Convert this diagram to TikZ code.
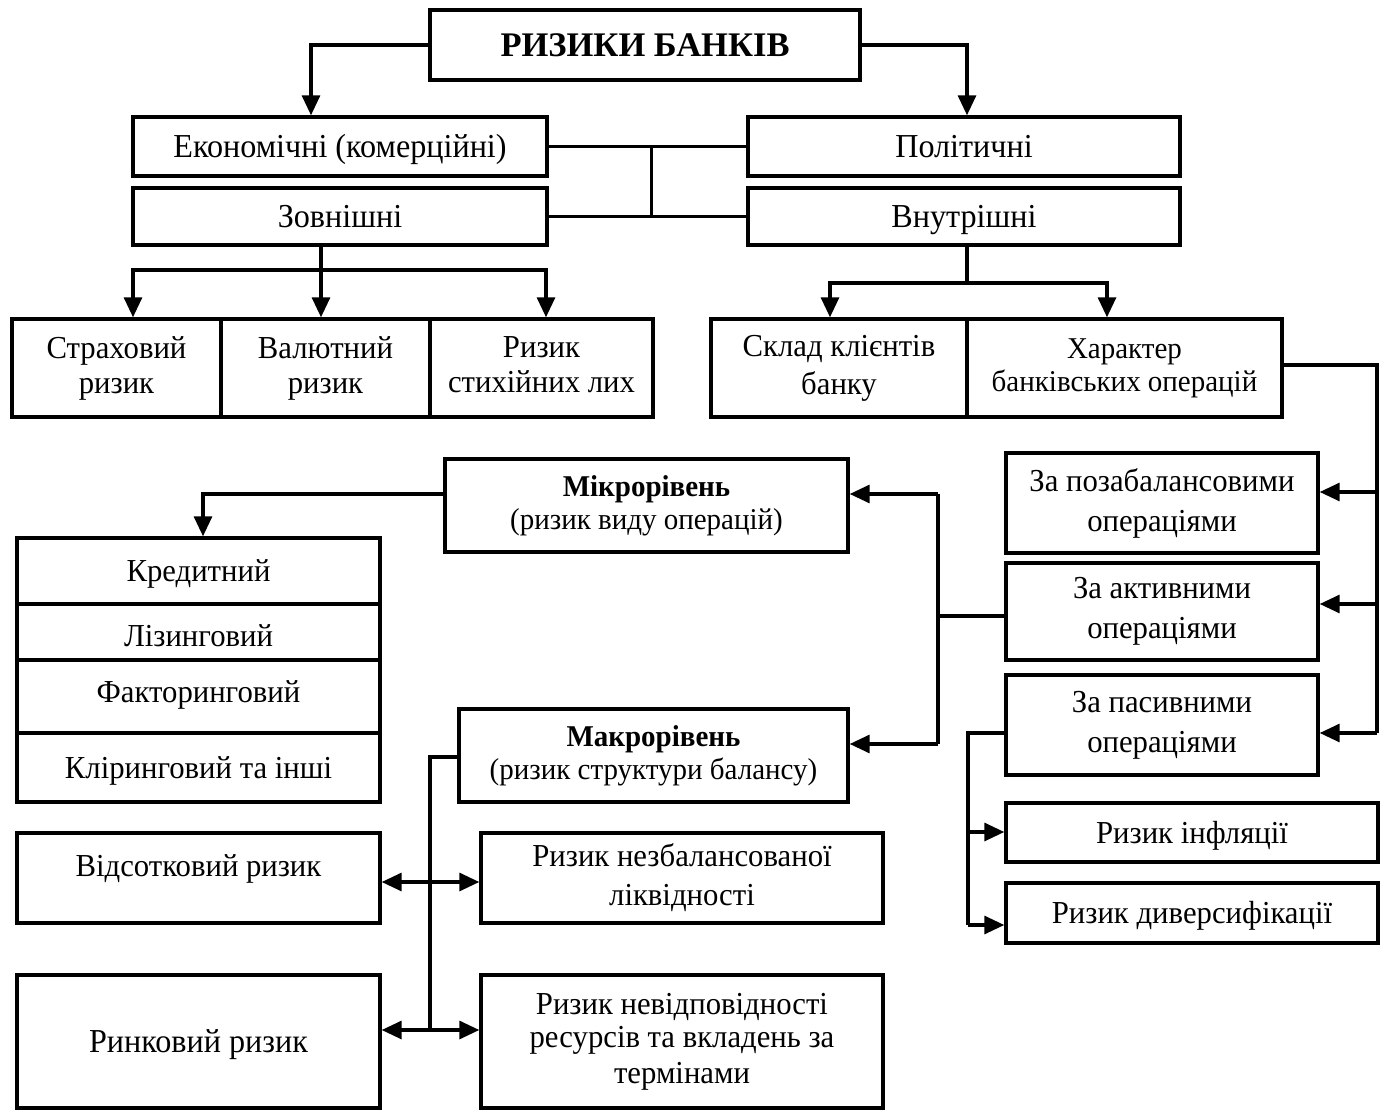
\documentclass[tikz,border=0pt]{standalone}
\usepackage{fontspec}
\setmainfont{Liberation Serif}[FakeStretch=0.96]
\newfontfamily\titlefont{Liberation Serif}
\usetikzlibrary{arrows.meta,calc}
\newcommand\vst{\vrule width 0pt height 0.87em depth 0.21em\relax}
\tikzset{
  bx/.style={draw, line width=3.4pt, inner sep=0pt, align=center, font=\fontsize{32}{35}\selectfont,
    execute at begin node=\vst, execute at end node=\vst},
  big/.style={font=\fontsize{33.5}{36}\selectfont},
  small/.style={font=\fontsize{30.2}{33}\selectfont},
  ln/.style={line width=3.2pt},
  arr/.style={line width=3.2pt, -{Triangle[length=20pt,width=18pt]}},
  darr/.style={line width=3.2pt, {Triangle[length=20pt,width=18pt]}-{Triangle[length=20pt,width=18pt]}},
}
\newcommand\mybox[7][]{\node[bx, minimum width={(#5)-(#3)}, minimum height={(#6)-(#4)}, #1] (#2) at ({((#3)+(#5))/2},{((#4)+(#6))/2}) {#7};}
\begin{document}
\begin{tikzpicture}[x=1pt,y=-1pt]
\useasboundingbox[fill=white] (0,0) rectangle (1387,1110);
% boxes
\mybox[font=\fontsize{34.5}{38}\titlefont\bfseries]{title}{430}{10}{860}{80}{РИЗИКИ БАНКІВ}
\mybox[big]{econ}{133}{117}{547}{176}{Економічні (комерційні)}
\mybox[big]{polit}{748}{117}{1180}{176}{Політичні}
\mybox[big]{zov}{133}{188}{547}{245}{Зовнішні}
\mybox[big]{vnut}{748}{188}{1180}{245}{Внутрішні}
\mybox{strah}{12}{319}{221}{417}{Страховий\\ризик}
\mybox{val}{221}{319}{430}{417}{Валютний\\ризик}
\mybox{styx}{430}{319}{653}{417}{Ризик\\стихійних лих}
\mybox[font=\fontsize{32}{38}\selectfont]{sklad}{711}{319}{967}{417}{Склад клієнтів\\банку}
\mybox[small]{har}{967}{319}{1282}{417}{Характер\\банківських операцій}
\mybox[font=\fontsize{32}{40}\selectfont]{pozab}{1006}{453}{1318}{553}{За позабалансовими\\операціями}
\mybox[font=\fontsize{32}{40}\selectfont]{akt}{1006}{563}{1318}{660}{За активними\\операціями}
\mybox[font=\fontsize{32}{40}\selectfont]{pas}{1006}{675}{1318}{775}{За пасивними\\операціями}
\mybox{infl}{1006}{803}{1378}{862}{Ризик інфляції}
\mybox{divers}{1006}{883}{1378}{943}{Ризик диверсифікації}
\mybox[small]{mikro}{445}{459}{848}{552}{\textbf{Мікрорівень}\\(ризик виду операцій)}
\mybox[small]{makro}{459}{709}{848}{802}{\textbf{Макрорівень}\\(ризик структури балансу)}
\mybox{kred}{17}{538}{380}{604}{Кредитний}
\mybox{liz}{17}{604}{380}{660}{\raisebox{-4pt}{Лізинговий}}
\mybox{fakt}{17}{660}{380}{733}{\raisebox{5pt}{Факторинговий}}
\mybox{klir}{17}{733}{380}{802}{Кліринговий та інші}
\mybox{vids}{17}{833}{380}{923}{}
\node[font=\fontsize{32}{35}\selectfont, inner sep=0pt] at ([yshift=12]vids.center) {\vst Відсотковий ризик\vst};
\mybox[font=\fontsize{32}{39}\selectfont]{nezb}{481}{833}{883}{923}{Ризик незбалансованої\\ліквідності}
\mybox[big]{rynk}{17}{975}{380}{1108}{Ринковий ризик}
\mybox[font=\fontsize{32}{36}\selectfont]{nevid}{481}{975}{883}{1108}{\raisebox{-3pt}{Ризик невідповідності}\\ресурсів та вкладень за\\термінами}
% connectors top
\draw[arr] (title.west) -| ([xshift=-29]econ.north);
\draw[arr] (title.east) -| ([xshift=3]polit.north);
\draw[ln] (econ.east) -- (polit.west);
\draw[ln] (zov.east) -- (vnut.west);
\draw[ln] ($(econ.east)!0.52!(polit.west)$) -- ($(zov.east)!0.52!(vnut.west)$);
% external
\coordinate (zb) at (321,270);
\draw[ln] (zov.south -| zb) -- (zb);
\draw[arr] (zb) -| ([xshift=16.5]strah.north);
\draw[arr] (zb) -| ([xshift=4.5]styx.north);
\draw[arr] (zb) -- (val.north -| zb);
% internal
\coordinate (vb) at (967,283);
\draw[ln] (vnut.south -| vb) -- (vb);
\draw[arr] (vb) -| ([xshift=-9]sklad.north);
\draw[arr] (vb) -| ([xshift=-17.5]har.north);
% right bus
\coordinate (rb0) at (1377,365);
\coordinate (rb1) at (1377,492);
\coordinate (rb2) at (1377,604);
\coordinate (rb3) at (1377,733);
\draw[ln] (har.east |- rb0) -- (rb0) -- (rb3);
\draw[arr] (rb1) -- (pozab.east |- rb1);
\draw[arr] (rb2) -- (akt.east |- rb2);
\draw[arr] (rb3) -- (pas.east |- rb3);
% middle bus
\coordinate (mb0) at (938,616);
\coordinate (mb1) at (938,494);
\coordinate (mb2) at (938,744);
\draw[ln] (akt.west |- mb0) -- (mb0);
\draw[ln] (mb1) -- (mb2);
\draw[arr] (mb1) -- (mikro.east |- mb1);
\draw[arr] (mb2) -- (makro.east |- mb2);
% micro to stack
\coordinate (kb) at (203,494);
\draw[arr] (mikro.west |- kb) -- (kb) -- (kred.north -| kb);
% passive
\coordinate (pb0) at (968,733);
\coordinate (pb1) at (968,832);
\coordinate (pb2) at (968,925);
\draw[ln] (pas.west |- pb0) -- (pb0) -- (pb2);
\draw[arr] (pb1) -- (infl.west |- pb1);
\draw[arr] (pb2) -- (divers.west |- pb2);
% macro
\coordinate (qb0) at (430,757);
\coordinate (qb1) at (430,882);
\coordinate (qb2) at (430,1030);
\draw[ln] (makro.west |- qb0) -- (qb0) -- (qb2);
\draw[darr] (vids.east |- qb1) -- (nezb.west |- qb1);
\draw[darr] (rynk.east |- qb2) -- (nevid.west |- qb2);
\end{tikzpicture}
\end{document}
